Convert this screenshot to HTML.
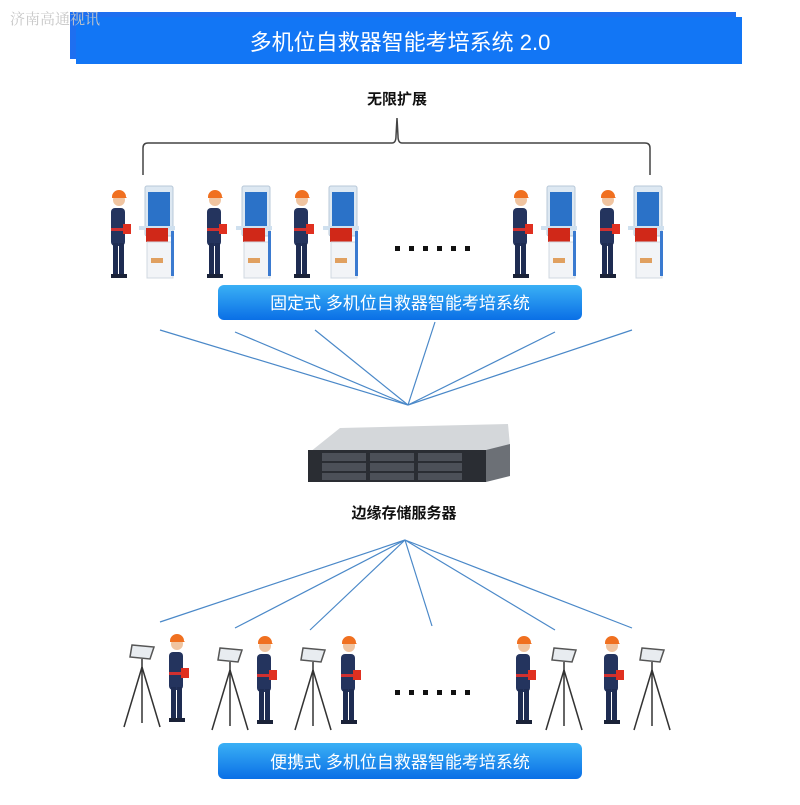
<!DOCTYPE html>
<html><head><meta charset="utf-8"><style>
html,body{margin:0;padding:0;background:#fff;}
body{width:800px;height:800px;overflow:hidden;position:relative;font-family:"Liberation Sans","Noto Sans CJK SC",sans-serif;}
</style></head><body>
<svg width="800" height="800" viewBox="0 0 800 800" xmlns="http://www.w3.org/2000/svg">
<defs>
<linearGradient id="bar" x1="0" y1="0" x2="0" y2="1">
<stop offset="0" stop-color="#3ab0f5"/><stop offset="1" stop-color="#0a6fe6"/></linearGradient>
<g id="person">
<rect x="3" y="20" width="14" height="38" rx="4" fill="#24345e"/>
<rect x="5" y="55" width="5" height="32" fill="#1e2c52"/>
<rect x="11" y="55" width="5" height="32" fill="#1e2c52"/>
<rect x="3" y="86" width="9" height="4" fill="#1a2238"/><rect x="10" y="86" width="9" height="4" fill="#1a2238"/>
<circle cx="11" cy="12" r="6" fill="#f0c4a0"/>
<path d="M4 9 A7 7 0 0 1 18 9 L19 10 L4 10Z" fill="#f07020"/>
<rect x="3" y="40" width="15" height="3" fill="#d03030"/>
<rect x="15" y="36" width="8" height="10" fill="#e03020"/>
</g>
<g id="kiosk">
<rect x="2" y="0" width="28" height="50" rx="2" fill="#dde8f2" stroke="#b8c8d8"/>
<rect x="5" y="6" width="22" height="35" fill="#2b72c8"/>
<rect x="-4" y="40" width="36" height="4" fill="#cfe0ef"/>
<rect x="3" y="42" width="22" height="14" fill="#d02818"/>
<rect x="4" y="56" width="26" height="36" fill="#f2f4f7" stroke="#d0d8e0"/>
<rect x="8" y="72" width="12" height="5" fill="#e0a060"/>
<rect x="28" y="45" width="3" height="45" fill="#3a7ad0"/>
</g>
<g id="tripod">
<polygon points="2,0 24,2 20,14 0,12" fill="#e8ecf0" stroke="#555" stroke-width="1.5"/>
<line x1="12" y1="14" x2="12" y2="78" stroke="#333" stroke-width="1.5"/>
<line x1="12" y1="22" x2="-6" y2="82" stroke="#333" stroke-width="1.5"/>
<line x1="12" y1="22" x2="30" y2="82" stroke="#333" stroke-width="1.5"/>
</g>
</defs>
<rect x="70" y="12" width="666" height="47" fill="#1e6ff0"/>
<rect x="76" y="17" width="666" height="47" fill="#1276f5"/>
<text x="10" y="24" font-size="15" fill="#c8c8c8" font-family="Liberation Serif,Noto Serif CJK SC,serif">济南高通视讯</text>
<text x="400" y="50" font-size="22" fill="#fff" text-anchor="middle">多机位自救器智能考培系统 2.0</text>
<text x="397" y="104" font-size="15" font-weight="bold" fill="#111" text-anchor="middle">无限扩展</text>
<path d="M143 175 L143 148 Q143 143 148 143 L392 143 Q396 143 396 136 L397 118 L398 136 Q398 143 402 143 L645 143 Q650 143 650 148 L650 175" fill="none" stroke="#444" stroke-width="1.5"/>
<use href="#person" x="108" y="188"/><use href="#kiosk" x="143" y="186"/>
<use href="#person" x="204" y="188"/><use href="#kiosk" x="240" y="186"/>
<use href="#person" x="291" y="188"/><use href="#kiosk" x="327" y="186"/>
<use href="#person" x="510" y="188"/><use href="#kiosk" x="545" y="186"/>
<use href="#person" x="597" y="188"/><use href="#kiosk" x="632" y="186"/>
<g fill="#111"><rect x="395" y="246" width="5" height="5"/><rect x="409" y="246" width="5" height="5"/><rect x="423" y="246" width="5" height="5"/><rect x="437" y="246" width="5" height="5"/><rect x="451" y="246" width="5" height="5"/><rect x="465" y="246" width="5" height="5"/></g>
<rect x="218" y="285" width="364" height="35" rx="6" fill="url(#bar)"/>
<text x="400" y="309" font-size="17" fill="#fff" text-anchor="middle">固定式 多机位自救器智能考培系统</text>
<g stroke="#4a88c8" stroke-width="1.2">
<line x1="160" y1="330" x2="408" y2="405"/><line x1="235" y1="332" x2="408" y2="405"/>
<line x1="315" y1="330" x2="408" y2="405"/><line x1="435" y1="322" x2="408" y2="405"/>
<line x1="555" y1="332" x2="408" y2="405"/><line x1="632" y1="330" x2="408" y2="405"/>
<line x1="405" y1="540" x2="160" y2="622"/><line x1="405" y1="540" x2="235" y2="628"/>
<line x1="405" y1="540" x2="310" y2="630"/><line x1="405" y1="540" x2="432" y2="626"/>
<line x1="405" y1="540" x2="555" y2="630"/><line x1="405" y1="540" x2="632" y2="628"/>
</g>
<polygon points="340,428 508,424 510,446 486,452 310,452" fill="#d4d7da"/>
<rect x="308" y="450" width="178" height="32" fill="#2a2d33"/>
<polygon points="486,450 510,444 510,476 486,482" fill="#6c7076"/>
<g fill="#4c5058"><rect x="322" y="453" width="44" height="8"/><rect x="370" y="453" width="44" height="8"/><rect x="418" y="453" width="44" height="8"/>
<rect x="322" y="463" width="44" height="8"/><rect x="370" y="463" width="44" height="8"/><rect x="418" y="463" width="44" height="8"/>
<rect x="322" y="473" width="44" height="7"/><rect x="370" y="473" width="44" height="7"/><rect x="418" y="473" width="44" height="7"/></g>
<text x="404" y="518" font-size="15" font-weight="bold" fill="#111" text-anchor="middle">边缘存储服务器</text>
<use href="#tripod" x="130" y="645"/><use href="#person" x="166" y="632"/>
<use href="#tripod" x="218" y="648"/><use href="#person" x="254" y="634"/>
<use href="#tripod" x="301" y="648"/><use href="#person" x="338" y="634"/>
<use href="#person" x="513" y="634"/><use href="#tripod" x="552" y="648"/>
<use href="#person" x="601" y="634"/><use href="#tripod" x="640" y="648"/>
<g fill="#111"><rect x="395" y="690" width="5" height="5"/><rect x="409" y="690" width="5" height="5"/><rect x="423" y="690" width="5" height="5"/><rect x="437" y="690" width="5" height="5"/><rect x="451" y="690" width="5" height="5"/><rect x="465" y="690" width="5" height="5"/></g>
<rect x="218" y="743" width="364" height="36" rx="6" fill="url(#bar)"/>
<text x="400" y="768" font-size="17" fill="#fff" text-anchor="middle">便携式 多机位自救器智能考培系统</text>
</svg>
</body></html>
